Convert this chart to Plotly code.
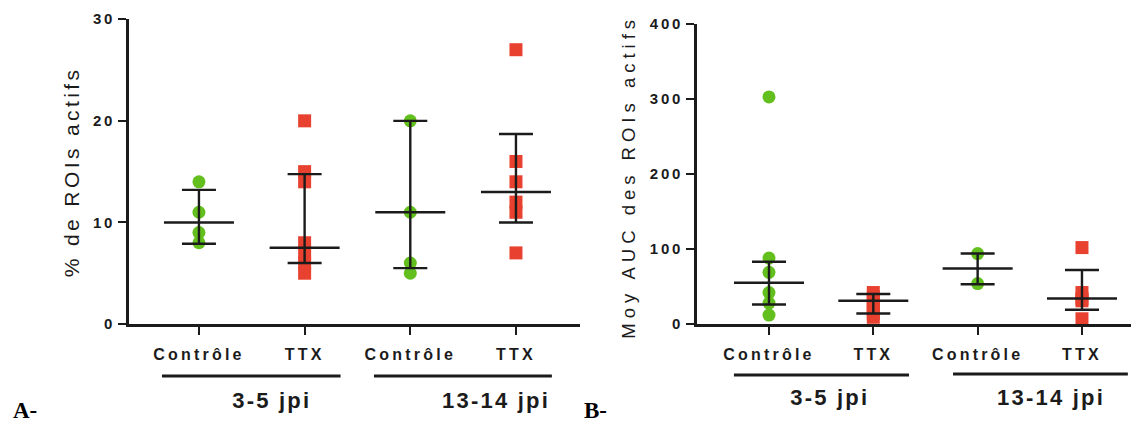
import plotly.graph_objects as go

# ---------------- data ----------------
categories = ["Contrôle", "TTX", "Contrôle", "TTX"]
groups = ["3-5 jpi", "13-14 jpi"]

# Panel A : % de ROIs actifs
a_ctrl_35 = [14, 11, 9, 8]
a_ttx_35 = [20, 15, 14, 8, 7, 6, 5]
a_ctrl_1314 = [20, 11, 6, 5]
a_ttx_1314 = [27, 16, 14, 12, 11, 7]
a_center = [10, 7.5, 11, 13]
a_low = [7.9, 6.0, 5.5, 10.0]
a_high = [13.2, 14.75, 20, 18.7]

# Panel B : Moy AUC des ROIs actifs
b_ctrl_35 = [303, 88, 69, 42, 28, 12]
b_ttx_35 = [42, 36, 30, 25, 19, 14, 9]
b_ctrl_1314 = [94, 54]
b_ttx_1314 = [102, 42, 34, 31, 7]
b_center = [55, 31, 74, 34]
b_low = [26, 14, 53, 19]
b_high = [83, 40, 94, 72]

# ---------------- styling ----------------
W, H = 1131, 425
GREEN = "#63BF1D"
RED = "#E8412F"
INK = "#1b1b1b"
SANS = "Liberation Sans, Arial, sans-serif"
SERIF = "Liberation Serif, Times New Roman, serif"

# observed vertical mapping of the capture: shown = OFF + SC * page_px
OFF, SC = 8.75, 0.9607


def fx(p):
    return p / W


def fy(p):
    return 1 - ((p - OFF) / SC) / H


fig = go.Figure()


def add_panel(series, center, low, high, xa, ya):
    for i, vals in enumerate(series):
        is_ttx = categories[i] == "TTX"
        fig.add_trace(go.Scatter(
            x=[i + 1] * len(vals), y=vals, mode="markers",
            xaxis=xa, yaxis=ya, showlegend=False, cliponaxis=False,
            marker=dict(symbol="square" if is_ttx else "circle", size=13,
                        color=RED if is_ttx else GREEN, line=dict(width=0)),
        ))
    xs = list(range(1, len(center) + 1))
    fig.add_trace(go.Scatter(
        x=xs, y=center, mode="markers", xaxis=xa, yaxis=ya,
        showlegend=False, cliponaxis=False,
        marker=dict(symbol="line-ew", size=50, line=dict(width=2.6, color=INK)),
        error_y=dict(type="data", symmetric=False,
                     array=[h - c for h, c in zip(high, center)],
                     arrayminus=[c - l for c, l in zip(center, low)],
                     width=17, thickness=2.4, color=INK),
    ))


add_panel([a_ctrl_35, a_ttx_35, a_ctrl_1314, a_ttx_1314], a_center, a_low, a_high, "x", "y")
add_panel([b_ctrl_35, b_ttx_35, b_ctrl_1314, b_ttx_1314], b_center, b_low, b_high, "x2", "y2")

tickfont = dict(family=SANS, size=15, color=INK, weight="bold")
xcommon = dict(tickmode="array", tickvals=[1, 2, 3, 4], ticktext=categories,
               showline=True, linecolor=INK, linewidth=2.6, ticks="outside",
               ticklen=8, tickwidth=2, tickcolor=INK, showgrid=False,
               zeroline=False, tickfont=dict(family=SANS, size=16, color=INK, weight="bold"),
               ticklabelstandoff=6, fixedrange=True)
ycommon = dict(showline=True, linecolor=INK, linewidth=2.6, ticks="outside",
               ticklen=8, tickwidth=2, tickcolor=INK, showgrid=False,
               zeroline=False, tickfont=tickfont, fixedrange=True)

fig.update_layout(
    width=W, height=H, margin=dict(l=0, r=0, t=0, b=0, pad=0),
    paper_bgcolor="white", plot_bgcolor="white",
    xaxis=dict(domain=[fx(129), fx(580)], range=[0.338, 4.606], anchor="y", **xcommon),
    yaxis=dict(domain=[fy(324), fy(19)], range=[0, 30], anchor="x",
               tickvals=[0, 10, 20, 30], **ycommon),
    xaxis2=dict(domain=[fx(697), 1.0], range=[0.31, 4.47], anchor="y2", **xcommon),
    yaxis2=dict(domain=[fy(324), fy(24)], range=[0, 400], anchor="x2",
                tickvals=[0, 100, 200, 300, 400], **ycommon),
)

# group underlines
group_lines = [
    ("x", 0.65, 2.34, 376), ("x", 2.656, 4.34, 376),
    ("x2", 0.664, 2.342, 375), ("x2", 2.764, 4.44, 374),
]
for xr, x0, x1, yp in group_lines:
    fig.add_shape(type="line", xref=xr, yref="paper", x0=x0, x1=x1,
                  y0=fy(yp), y1=fy(yp), line=dict(color=INK, width=3))

gfont = dict(family=SANS, size=22, color=INK, weight="bold")
group_pos = [("x", 1.69, 401, groups[0]), ("x", 3.81, 401, groups[1]),
             ("x2", 1.585, 398, groups[0]), ("x2", 3.70, 398, groups[1])]
for xr, xv, yp, txt in group_pos:
    fig.add_annotation(text=txt, xref=xr, yref="paper", x=xv, y=fy(yp),
                       xanchor="center", yanchor="middle", showarrow=False, font=gfont)

# axis titles
fig.add_annotation(text="% de ROIs actifs", xref="paper", yref="paper",
                   x=fx(71), y=fy(172), textangle=-90, showarrow=False,
                   xanchor="center", yanchor="middle",
                   font=dict(family=SANS, size=21, color=INK))
fig.add_annotation(text="Moy AUC des ROIs actifs", xref="paper", yref="paper",
                   x=fx(628), y=fy(176), textangle=-90, showarrow=False,
                   xanchor="center", yanchor="middle",
                   font=dict(family=SANS, size=18.5, color=INK))

# panel letters
for txt, xp in [("A-", 11), ("B-", 582)]:
    fig.add_annotation(text=txt, xref="paper", yref="paper", x=fx(xp), y=0,
                       xanchor="left", yanchor="bottom", yshift=-8, showarrow=False,
                       font=dict(family=SERIF, size=23, color="black", weight="bold"))

post = """
document.documentElement.style.margin = '0';
document.body.style.margin = '0';
var gd = document.getElementById('{plot_id}');
function applyLS() {
  var map = {'% de ROIs actifs': 3.4, 'Moy AUC des ROIs actifs': 5.0,
             '3-5 jpi': 2.2, '13-14 jpi': 2.2, 'Contrôle': 3.2, 'TTX': 3.2};
  gd.querySelectorAll('text').forEach(function(t) {
    var s = t.textContent;
    if (map[s] !== undefined) { t.style.letterSpacing = map[s] + 'px'; }
    else if (/^[0-9]+$/.test(s)) { t.style.letterSpacing = '2.8px'; }
  });
}
applyLS();
gd.on('plotly_afterplot', applyLS);
"""

fig.write_html("out.html", post_script=post, config={"displayModeBar": False})
